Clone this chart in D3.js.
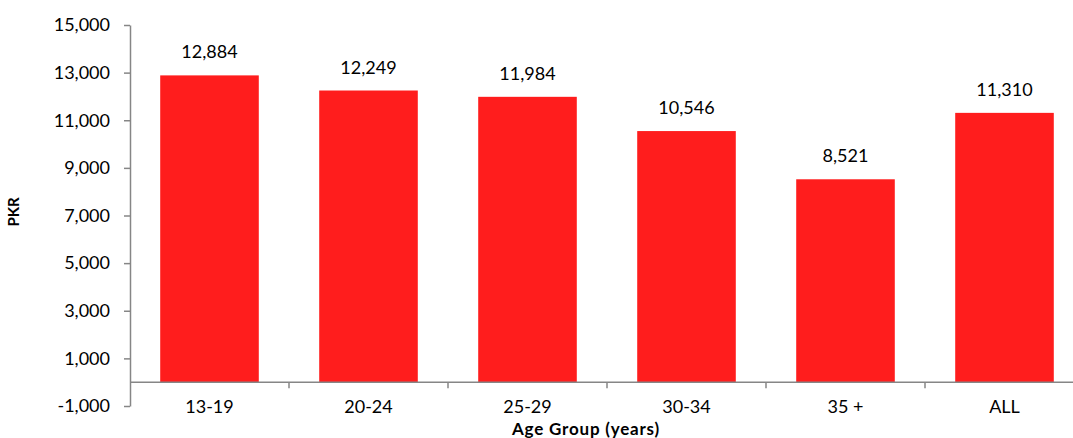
<!doctype html>
<html lang="en">
  <head>
    <meta charset="utf-8">
    <title>Age group bar chart</title>
    <script src="https://d3js.org/d3.v7.min.js"></script>
    <style>
    body { margin: 0; background: #fff; }
    text { font-family: Lato, "Open Sans", sans-serif; fill: #000; }
    .axis path, .axis line { stroke: #868686; stroke-width: 1.5; }
    .axis text { font-size: 18px; }
    .bar { fill: #ff1d1d; }
    .value { font-size: 18px; text-anchor: middle; }
    .title { font-weight: bold; }
    </style>
  </head>

  <body>
    <svg width="1073" height="438"></svg>

    <script>
      var categories = ['13-19', '20-24', '25-29', '30-34', '35 +', 'ALL'];
      var values = [12884, 12249, 11984, 10546, 8521, 11310];
      var yTicks = [-1000, 1000, 3000, 5000, 7000, 9000, 11000, 13000, 15000];

      var svg = d3.select('svg');

      var data = categories.map(function(c, i){
        return { cat: c, value: values[i] };
      });

      // plain hyphen for negatives, like the original
      var fmt = function(v){ return d3.format(',')(v).replace('\u2212', '-'); };

      var x = d3.scaleBand()
        .domain(categories)
        .range([130, 1084])
        .paddingInner(0.38)
        .paddingOuter(0.19);

      var y = d3.scaleLinear()
        .domain([-1000, 15000])
        .range([406, 25]);

      // bars
      svg.selectAll('.bar').data(data)
        .enter()
          .append('rect')
          .attr('class', 'bar')
          .attr('x', function(d){ return x(d.cat); })
          .attr('y', function(d){ return y(d.value); })
          .attr('width', x.bandwidth())
          .attr('height', function(d){ return y(0) - y(d.value); });

      // value labels
      svg.selectAll('.value').data(data)
        .enter()
          .append('text')
          .attr('class', 'value')
          .attr('x', function(d){ return x(d.cat) + x.bandwidth() / 2; })
          .attr('y', function(d){ return y(d.value) - 17; })
          .text(function(d){ return fmt(d.value); });

      // y axis
      var yAxis = d3.axisLeft(y)
        .tickValues(yTicks)
        .tickSize(6)
        .tickSizeOuter(0)
        .tickPadding(14)
        .tickFormat(fmt);

      svg.append('g')
        .attr('class', 'axis')
        .attr('transform', 'translate(130, 0)')
        .call(yAxis);

      // x axis sits on zero, ticks at category boundaries
      var step = x.step();
      var xLine = svg.append('g').attr('class', 'axis');
      xLine.append('line')
        .attr('x1', 130).attr('x2', 1084)
        .attr('y1', y(0)).attr('y2', y(0));
      xLine.selectAll('.bound').data(d3.range(1, categories.length + 1))
        .enter()
          .append('line')
          .attr('x1', function(i){ return 130 + i * step; })
          .attr('x2', function(i){ return 130 + i * step; })
          .attr('y1', y(0)).attr('y2', y(0) + 6);

      // category labels below the plot
      svg.selectAll('.cat').data(categories)
        .enter()
          .append('text')
          .attr('class', 'cat')
          .attr('text-anchor', 'middle')
          .attr('x', function(d){ return x(d) + x.bandwidth() / 2; })
          .attr('y', 413)
          .style('font-size', '18px')
          .text(function(d){ return d; });

      // axis titles
      svg.append('text')
        .attr('class', 'title')
        .attr('text-anchor', 'middle')
        .attr('transform', 'translate(19, 212) rotate(-90)')
        .style('font-size', '15px')
        .text('PKR');

      svg.append('text')
        .attr('class', 'title')
        .attr('text-anchor', 'middle')
        .attr('x', 586)
        .attr('y', 435)
        .style('font-size', '17px')
        .style('letter-spacing', '0.8px')
        .text('Age Group (years)');
    </script>
  </body>
</html>
